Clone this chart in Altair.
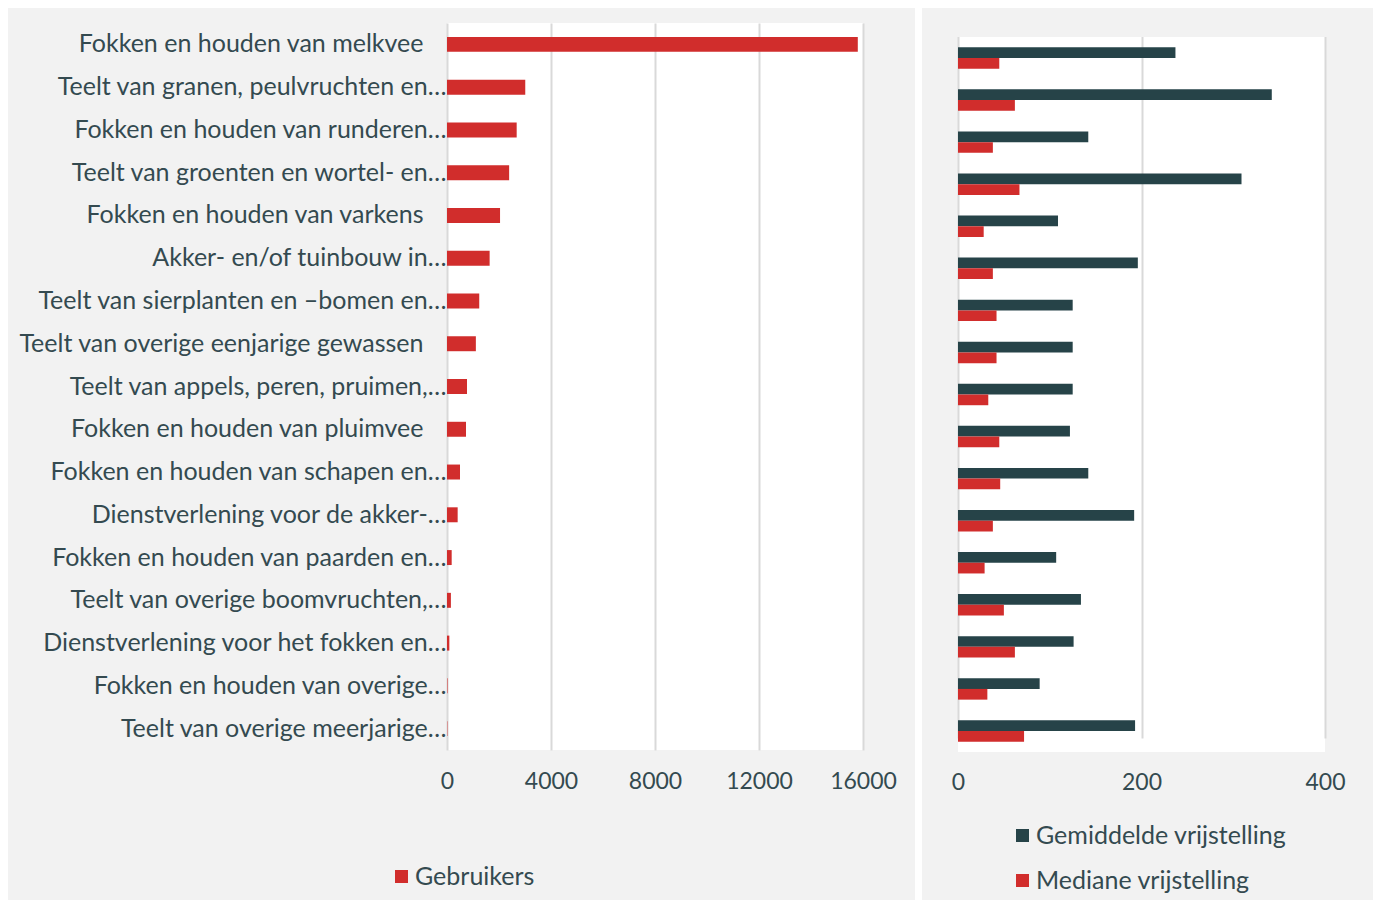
import altair as alt
import pandas as pd

# ---------------- data ----------------
categories = [
    "Fokken en houden van melkvee",
    "Teelt van granen, peulvruchten en…",
    "Fokken en houden van runderen…",
    "Teelt van groenten en wortel- en…",
    "Fokken en houden van varkens",
    "Akker- en/of tuinbouw in…",
    "Teelt van sierplanten en –bomen en…",
    "Teelt van overige eenjarige gewassen",
    "Teelt van appels, peren, pruimen,…",
    "Fokken en houden van pluimvee",
    "Fokken en houden van schapen en…",
    "Dienstverlening voor de akker-…",
    "Fokken en houden van paarden en…",
    "Teelt van overige boomvruchten,…",
    "Dienstverlening voor het fokken en…",
    "Fokken en houden van overige…",
    "Teelt van overige meerjarige…",
]
gebruikers = [15800, 3010, 2680, 2390, 2040, 1640, 1240, 1110, 770, 730,
              500, 410, 180, 150, 90, 20, 15]
gemiddelde = [237, 342, 142, 309, 109, 196, 125, 125, 125, 122,
              142, 192, 107, 134, 126, 89, 193]
mediane = [45, 62, 38, 67, 28, 38, 42, 42, 33, 45,
           46, 38, 29, 50, 62, 32, 72]
left_series = ["Gebruikers"]
right_series = ["Gemiddelde vrijstelling", "Mediane vrijstelling"]
left_ticks = [0, 4000, 8000, 12000, 16000]
right_ticks = [0, 200, 400]

# ---------------- style ----------------
FONT = "Lato"
TEXT = "#344a50"
RED = "#d12d2c"
DARK = "#264348"
GRID = "#d9d9d9"
BG = "#f2f2f2"
FS_LAB = 25
FS_TICK = 23

df_left = pd.DataFrame({"Categorie": categories, "Aantal": gebruikers,
                        "Reeks1": left_series[0]})
rows = []
for c, g, m in zip(categories, gemiddelde, mediane):
    rows.append({"Categorie": c, "Reeks": right_series[0], "Waarde": g})
    rows.append({"Categorie": c, "Reeks": right_series[1], "Waarde": m})
df_right = pd.DataFrame(rows)
one = pd.DataFrame({"k": [0]})

W1, H1 = 416, 727
W2, H2 = 367, 729
TOP2 = 14  # right plot area starts lower

# ---------- left panel ----------
corner_left = alt.Chart(one).mark_rect(color=BG).encode(
    x=alt.value(-439), x2=alt.value(-438), y=alt.value(-15), y2=alt.value(-14))
strip = alt.Chart(one).mark_rect(color="white").encode(
    x=alt.value(468), x2=alt.value(475), y=alt.value(-15), y2=alt.value(877))

bars_left = alt.Chart(df_left).mark_bar().encode(
    y=alt.Y("Categorie:N", sort=categories, title=None,
            scale=alt.Scale(paddingInner=0.65, paddingOuter=0.325),
            axis=alt.Axis(domain=False, ticks=False, grid=False,
                          labelFont=FONT, labelFontSize=FS_LAB, labelColor=TEXT,
                          labelLimit=1000,
                          labelPadding={"condition": {"test": "indexof(datum.label, '…') >= 0", "value": 1},
                                        "value": 24},
                          minExtent=430, maxExtent=430)),
    x=alt.X("Aantal:Q", title=None,
            scale=alt.Scale(domain=[0, 16000], nice=False),
            axis=alt.Axis(values=left_ticks, format="d", domain=False, ticks=False,
                          grid=True, gridColor=GRID, gridWidth=2, labelFont=FONT,
                          labelFontSize=FS_TICK, labelColor=TEXT, labelPadding=20,
                          labelFlush=False)),
    color=alt.Color("Reeks1:N", scale=alt.Scale(domain=left_series, range=[RED]),
                    legend=alt.Legend(orient="none", legendX=-58, legendY=841,
                                      title=None, symbolType="square",
                                      symbolSize=169, symbolStrokeWidth=0,
                                      labelFont=FONT, labelFontSize=FS_LAB,
                                      labelColor=TEXT, labelOffset=1, padding=0,
                                      labelLimit=1000)),
)

left = alt.layer(corner_left, strip, bars_left).properties(width=W1, height=H1)

# ---------- right panel ----------
corner_right = alt.Chart(one).mark_rect(color=BG).encode(
    x=alt.value(-36), x2=alt.value(-35), y=alt.value(-15), y2=alt.value(-14))
edge_right = alt.Chart(one).mark_rect(color=BG).encode(
    x=alt.value(414), x2=alt.value(415), y=alt.value(-15), y2=alt.value(-14))
top_cover = alt.Chart(one).mark_rect(color=BG).encode(
    x=alt.value(-3), x2=alt.value(W2 + 3), y=alt.value(-1), y2=alt.value(TOP2))

bars_right = alt.Chart(df_right).mark_bar().encode(
    y=alt.Y("Categorie:N", sort=categories, title=None,
            scale=alt.Scale(paddingInner=0.49, paddingOuter=0.245,
                            range=[TOP2, H2]), axis=None),
    yOffset=alt.YOffset("Reeks:N", sort=right_series),
    x=alt.X("Waarde:Q", title=None,
            scale=alt.Scale(domain=[0, 400], nice=False),
            axis=alt.Axis(values=right_ticks, format="d", domain=False, ticks=False,
                          grid=True, gridColor=GRID, gridWidth=2, labelFont=FONT,
                          labelFontSize=FS_TICK, labelColor=TEXT, labelPadding=19,
                          labelFlush=False)),
    color=alt.Color("Reeks:N", sort=right_series,
                    scale=alt.Scale(domain=right_series, range=[DARK, RED]),
                    legend=alt.Legend(orient="none", legendX=52, legendY=800,
                                      direction="vertical", columns=1,
                                      title=None, symbolType="square",
                                      symbolSize=169, symbolStrokeWidth=0,
                                      labelFont=FONT, labelFontSize=FS_LAB,
                                      labelColor=TEXT, labelOffset=1, padding=0,
                                      rowPadding=19, labelLimit=1000)),
)

right = alt.layer(corner_right, edge_right, top_cover, bars_right).properties(
    width=W2, height=H2)

chart = (
    alt.hconcat(left, right, spacing=0)
    .resolve_scale(color="independent", y="independent", x="independent")
    .resolve_legend(color="independent")
    .properties(padding=0, background=BG)
    .configure_view(stroke=None, fill="white")
)

chart.save("out.html", embed_options={"renderer": "svg", "actions": False})
